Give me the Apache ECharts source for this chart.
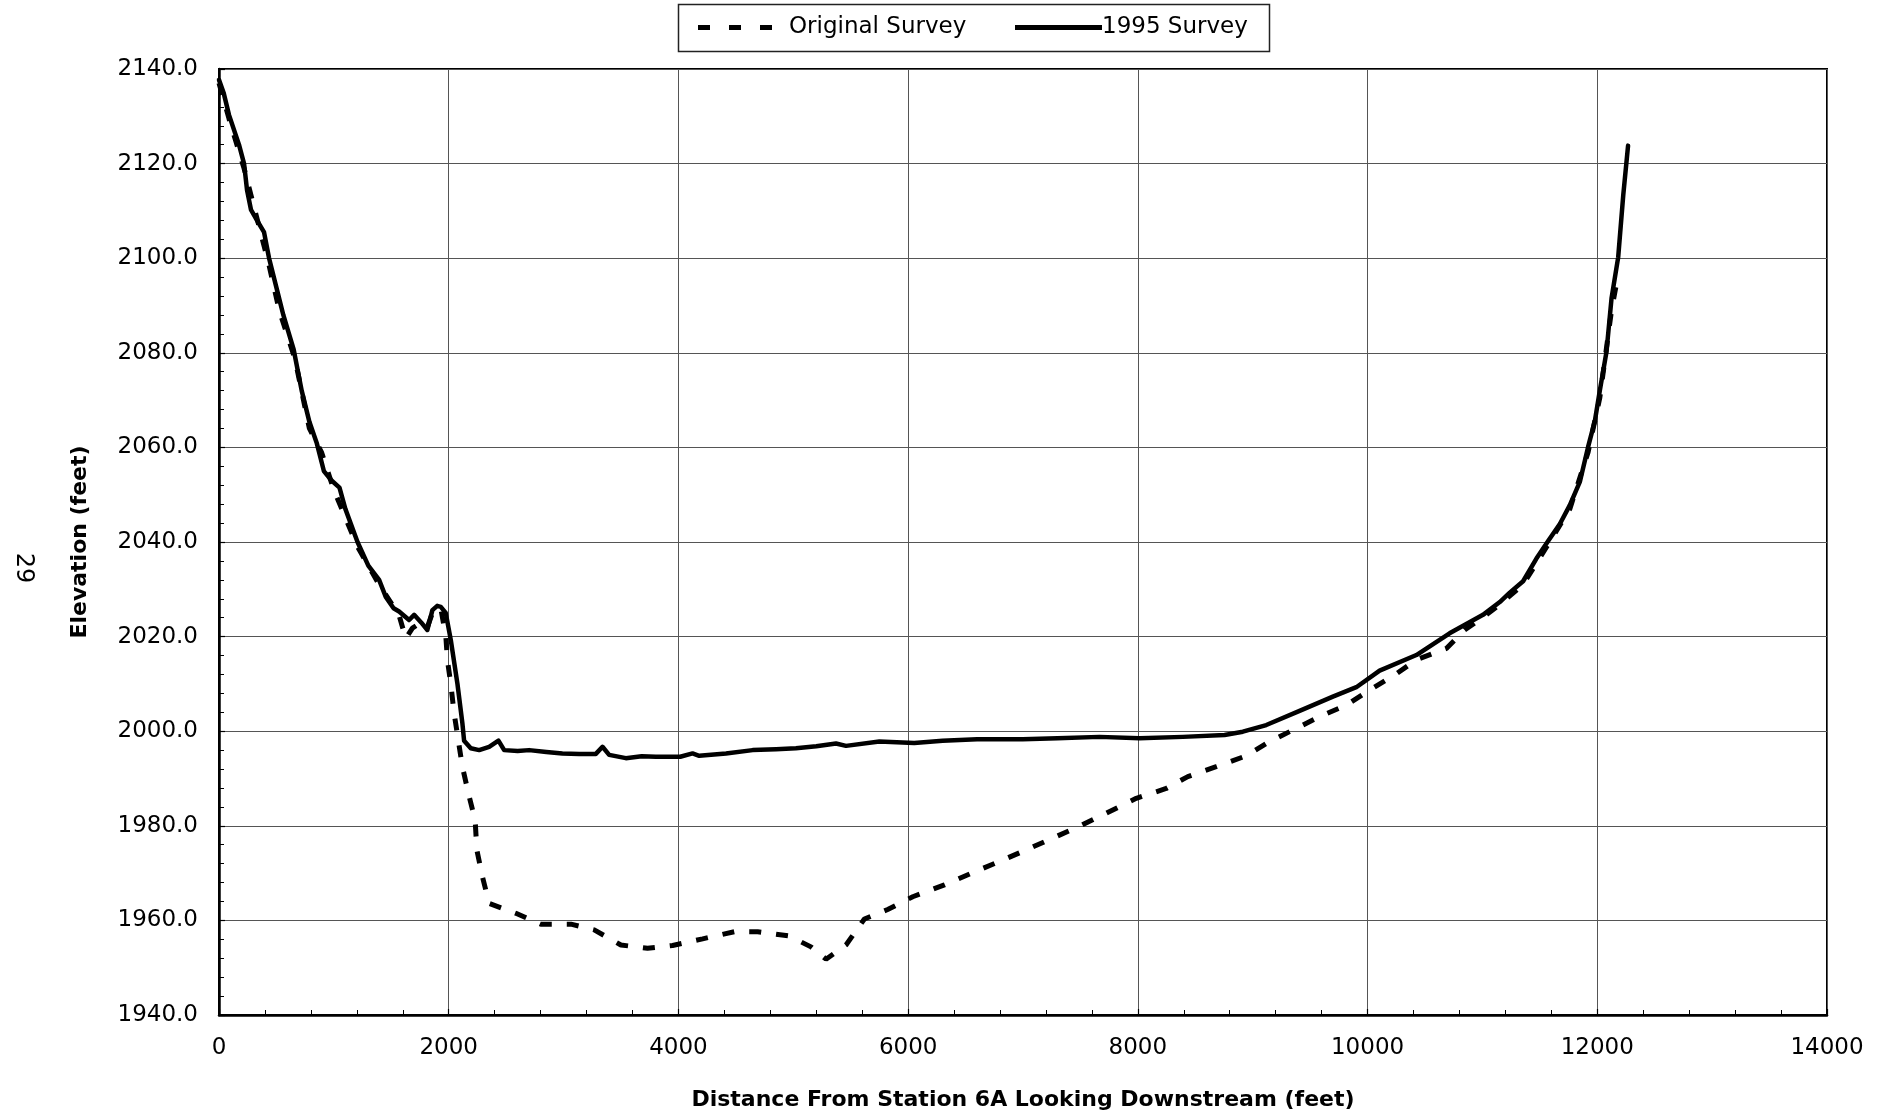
<!DOCTYPE html>
<html>
<head>
<meta charset="utf-8">
<title>Cross Section Survey Comparison</title>
<script src="https://cdn.jsdelivr.net/npm/echarts@6/dist/echarts.min.js"></script>
<style>
  html, body { margin: 0; padding: 0; background: #fff; }
  #chart { width: 1888px; height: 1117px; }
</style>
</head>
<body>
<div id="chart"></div>
<script>
// Original survey: distance from Station 6A (ft) and bed elevation (ft)
const originalDistance = [
  0, 87, 218, 436, 524, 661, 787, 892, 1000, 1206, 1394, 1568, 1626, 1684, 1760, 1814,
  1858, 1931, 1975, 1989, 2018, 2047, 2119, 2178, 2230, 2245, 2294, 2352, 2585, 2802,
  3064, 3267, 3499, 3731, 3949, 4210, 4486, 4690, 4966, 5154, 5285, 5459, 5619, 5822,
  6040, 6316, 6562, 6809, 7027, 7500, 7986, 8247, 8435, 8682, 8944, 9147, 9379, 9583,
  9815, 10018, 10236, 10425, 10686, 10845, 11000, 11151, 11354, 11572, 11761, 11920,
  12022, 12124, 12170
];
const originalElevation = [
  2137.0, 2129.5, 2119.0, 2098.5, 2089.0, 2078.7, 2064.0, 2059.0, 2051.0, 2039.0, 2031.0,
  2024.5, 2019.6, 2021.8, 2023.0, 2022.0, 2025.0, 2026.0, 2020.0, 2015.0, 2010.0, 2003.8,
  1992.5, 1986.2, 1981.2, 1974.9, 1969.2, 1963.6, 1961.5, 1959.2, 1959.2, 1958.0, 1954.8,
  1954.1, 1954.7, 1956.1, 1957.6, 1957.6, 1956.7, 1954.4, 1951.8, 1954.8, 1960.3, 1962.3,
  1965.0, 1967.5, 1970.1, 1972.6, 1974.9, 1980.0, 1985.8, 1987.9, 1990.4, 1992.5, 1994.8,
  1997.8, 2000.6, 2003.1, 2005.5, 2008.7, 2011.9, 2015.1, 2017.5, 2021.4, 2024.0, 2026.8,
  2031.0, 2039.5, 2047.0, 2059.0, 2070.5, 2089.0, 2095.0
];

// 1995 survey
const survey1995Distance = [
  0, 40, 87, 174, 218, 244, 279, 331, 392, 436, 505, 560, 650, 720, 787, 850, 913, 980,
  1049, 1100, 1206, 1300, 1394, 1452, 1520, 1568, 1655, 1699, 1760, 1814, 1858, 1900,
  1931, 1974, 2018, 2076, 2119, 2134, 2192, 2265, 2352, 2433, 2483, 2600, 2700, 2850,
  2990, 3136, 3281, 3339, 3397, 3542, 3680, 3804, 4016, 4123, 4181, 4414, 4646, 4850,
  5023, 5200, 5372, 5459, 5749, 6053, 6300, 6600, 6997, 7300, 7666, 8014, 8392, 8755,
  8914, 9118, 9408, 9698, 9902, 10105, 10425, 10714, 11005, 11151, 11238, 11354, 11470,
  11572, 11674, 11761, 11848, 11920, 11979, 12022, 12080, 12124, 12182, 12226, 12268
];
const survey1995Elevation = [
  2137.7, 2135.0, 2130.3, 2124.0, 2120.0, 2114.4, 2110.2, 2108.0, 2105.5, 2100.0, 2093.3,
  2088.0, 2080.7, 2072.0, 2065.4, 2061.0, 2055.0, 2053.0, 2051.5, 2047.0, 2040.0, 2035.0,
  2032.0, 2028.4, 2026.0, 2025.3, 2023.5, 2024.6, 2023.0, 2021.4, 2025.6, 2026.5, 2026.3,
  2025.0, 2019.3, 2010.0, 2001.7, 1998.0, 1996.4, 1996.0, 1996.7, 1998.0, 1996.0, 1995.8,
  1996.0, 1995.6, 1995.3, 1995.2, 1995.2, 1996.7, 1995.0, 1994.3, 1994.7, 1994.6, 1994.6,
  1995.3, 1994.8, 1995.3, 1996.0, 1996.2, 1996.4, 1996.8, 1997.4, 1996.9, 1997.8, 1997.5,
  1998.0, 1998.3, 1998.3, 1998.5, 1998.8, 1998.5, 1998.8, 1999.2, 1999.9, 2001.3, 2004.3,
  2007.3, 2009.3, 2012.8, 2016.1, 2020.7, 2024.6, 2027.3, 2029.3, 2031.7, 2036.5, 2040.2,
  2043.8, 2047.8, 2052.7, 2060.1, 2065.6, 2072.0, 2080.2, 2091.5, 2100.2, 2113.3, 2123.8
];

const seriesNames = ['Original Survey', '1995 Survey'];
const xAxisTitle = 'Distance From Station 6A Looking Downstream (feet)';
const yAxisTitle = 'Elevation (feet)';
const pageNumber = '29';

const zip = (xs, ys) => xs.map((x, i) => [x, ys[i]]);

// Legend keys: three short dashes for the original survey, a solid bar for 1995.
// Each path has the same aspect ratio as its legend item box.
const dashedKey = 'path://M0,0H12V5H0Z M31,0H43V5H31Z M62,0H74V5H62Z';
const solidKey = 'path://M0,0H87V5H0Z';

const FONT = 'DejaVu Sans';
const chart = echarts.init(document.getElementById('chart'), null, { renderer: 'canvas' });

chart.setOption({
  animation: false,
  backgroundColor: '#ffffff',
  textStyle: { fontFamily: FONT, color: '#000' },
  grid: {
    left: 219, right: 61, top: 69, bottom: 102,
    show: true, borderColor: '#000', borderWidth: 2
  },
  legend: [
    {
      data: [{ name: seriesNames[0], icon: dashedKey }],
      left: 698, top: 16, padding: 0,
      itemWidth: 74, itemHeight: 5, itemGap: 0,
      textStyle: { fontFamily: FONT, fontSize: 23, color: '#000', padding: [0, 0, 0, 12] }
    },
    {
      data: [{ name: seriesNames[1], icon: solidKey }],
      left: 1015, top: 16, padding: 0,
      itemWidth: 87, itemHeight: 5, itemGap: 0,
      textStyle: { fontFamily: FONT, fontSize: 23, color: '#000', padding: [0, 0, 0, -5] }
    }
  ],
  graphic: [
    {
      type: 'rect',
      shape: { x: 678.5, y: 4.5, width: 591, height: 47 },
      style: { fill: 'none', stroke: '#222', lineWidth: 1.5 },
      z: 0
    },
    {
      type: 'text',
      x: 23, y: 568,
      rotation: -Math.PI / 2,
      style: {
        text: pageNumber, fontFamily: FONT, fontSize: 24, fill: '#000',
        align: 'center', verticalAlign: 'middle'
      }
    }
  ],
  xAxis: {
    type: 'value',
    min: 0, max: 14000, interval: 2000,
    name: xAxisTitle,
    nameLocation: 'middle',
    nameGap: 74,
    nameTextStyle: { fontFamily: FONT, fontSize: 22, fontWeight: 'bold', color: '#000' },
    axisLine: { show: true, onZero: false, lineStyle: { color: '#000', width: 2.5 } },
    axisTick: { show: true, inside: true, length: 6, lineStyle: { color: '#000', width: 1.2 } },
    minorTick: { show: true, splitNumber: 5, length: 5, lineStyle: { color: '#000', width: 1 } },
    axisLabel: {
      fontFamily: FONT, fontSize: 23, color: '#000', margin: 22,
      formatter: v => String(v)
    },
    splitLine: { show: true, lineStyle: { color: '#555', width: 1 } }
  },
  yAxis: {
    type: 'value',
    min: 1940, max: 2140, interval: 20,
    name: yAxisTitle,
    nameLocation: 'middle',
    nameRotate: 90,
    nameGap: 128,
    nameTextStyle: { fontFamily: FONT, fontSize: 22, fontWeight: 'bold', color: '#000' },
    axisLine: { show: true, onZero: false, lineStyle: { color: '#000', width: 2.5 } },
    axisTick: { show: true, inside: true, length: 6, lineStyle: { color: '#000', width: 1.2 } },
    minorTick: { show: true, splitNumber: 5, length: 5, lineStyle: { color: '#000', width: 1 } },
    axisLabel: {
      fontFamily: FONT, fontSize: 23, color: '#000', margin: 21,
      formatter: v => v.toFixed(1)
    },
    splitLine: { show: true, lineStyle: { color: '#555', width: 1 } }
  },
  series: [
    {
      name: seriesNames[0],
      type: 'line',
      data: zip(originalDistance, originalElevation),
      showSymbol: false,
      symbol: 'none',
      lineStyle: { color: '#000', width: 5, type: [12, 15], cap: 'butt' },
      itemStyle: { color: '#000' },
      z: 3
    },
    {
      name: seriesNames[1],
      type: 'line',
      data: zip(survey1995Distance, survey1995Elevation),
      showSymbol: false,
      symbol: 'none',
      lineStyle: { color: '#000', width: 4.5, cap: 'round', join: 'round' },
      itemStyle: { color: '#000' },
      z: 4
    }
  ]
});
</script>
</body>
</html>
